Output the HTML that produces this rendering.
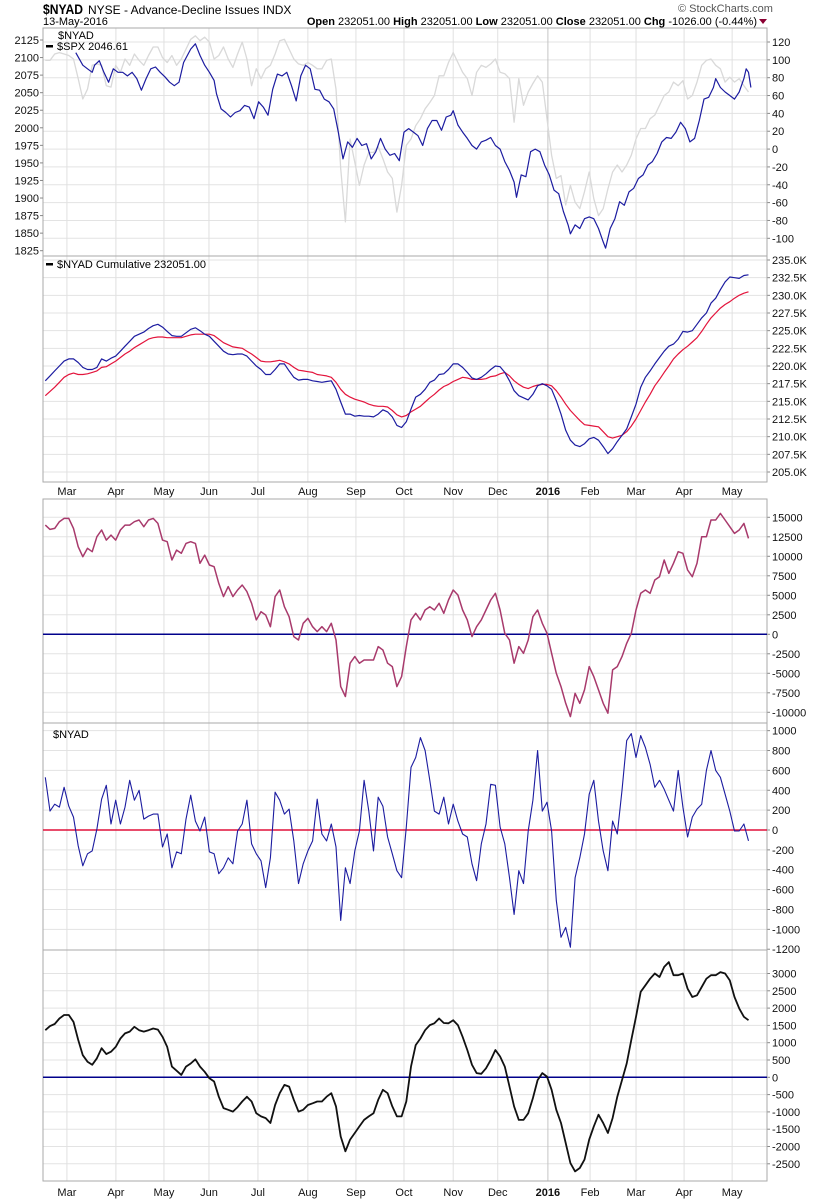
<!DOCTYPE html>
<html><head><meta charset="utf-8"><style>
html,body{margin:0;padding:0;background:#fff;}
svg{display:block;font-family:"Liberation Sans",Arial,sans-serif;}
</style></head><body>
<svg id="c" width="820" height="1200" viewBox="0 0 820 1200" xmlns="http://www.w3.org/2000/svg">
<text x="43" y="14" font-size="14" font-weight="bold" textLength="40" lengthAdjust="spacingAndGlyphs">$NYAD</text>
<text x="88" y="14" font-size="12">NYSE - Advance-Decline Issues INDX</text>
<text x="43" y="25" font-size="11">13-May-2016</text>
<text x="678" y="12" font-size="11" fill="#555">© StockCharts.com</text>
<text x="757" y="25" font-size="11" text-anchor="end"><tspan font-weight="bold">Open</tspan> 232051.00  <tspan font-weight="bold">High</tspan> 232051.00  <tspan font-weight="bold">Low</tspan> 232051.00  <tspan font-weight="bold">Close</tspan> 232051.00  <tspan font-weight="bold">Chg</tspan> -1026.00 (-0.44%)</text>
<polygon points="759,19 767,19 763,24" fill="#8b0033"/>
<g id="g"></g>
</svg>
<script>
const monthLabels=["Mar","Apr","May","Jun","Jul","Aug","Sep","Oct","Nov","Dec","2016","Feb","Mar","Apr","May"];
const monthDays=[10.2,31.1,51.6,70.8,91.7,113,133.5,154,175,194,215.4,233.4,253,273.5,294];
const p1LeftTicks=[2125,2100,2075,2050,2025,2000,1975,1950,1925,1900,1875,1850,1825];
const p1RightTicks=[120,100,80,60,40,20,0,-20,-40,-60,-80,-100];
const spxValues=[2096,2096,2105,2107,2105,2103,2098,2070,2041,2055,2089,2091,2089,2060,2058,2089,2079,2098,2089,2105,2096,2089,2103,2115,2115,2100,2093,2103,2089,2098,2112,2126,2131,2124,2129,2122,2098,2103,2115,2098,2086,2105,2122,2098,2060,2084,2070,2084,2089,2105,2124,2126,2112,2098,2091,2089,2093,2089,2084,2084,2096,2098,2055,1942,1866,1984,1951,1918,1947,1965,1965,1973,1956,1937,1928,1880,1918,1975,1984,2003,2013,2027,2036,2046,2074,2074,2093,2107,2093,2079,2070,2046,2079,2089,2086,2091,2098,2079,2077,2070,2008,2070,2032,2051,2063,2074,2065,2013,1961,1928,1932,1890,1918,1894,1885,1909,1937,1899,1875,1885,1913,1937,1947,1937,1947,1961,1984,1999,1999,2013,2018,2032,2046,2051,2065,2060,2067,2041,2046,2065,2089,2096,2098,2089,2084,2065,2072,2065,2070,2060,2051];
const p1BlueDays=[14,17,19,21,22,24,26,28,30,32,34,36,38,40,42,44,46,48,50,52,54,56,58,60,63,65,67,69,71,73,74,76,78,80,82,84,86,88,90,92,94,96,98,100,102,104,106,108,110,112,114,116,118,120,122,124,126,128,130,132,134,136,138,140,142,144,146,148,150,152,154,156,158,160,162,164,166,168,170,172,174,175,177,179,181,183,185,187,189,191,193,195,197,199,201,202,204,206,208,210,212,214,216,218,220,222,224,225,227,229,231,233,235,237,239,240,242,244,246,248,250,252,254,256,258,260,262,264,266,268,270,272,274,276,278,280,282,284,286,287,289,291,293,295,297,299,300,301,302];
const p1BlueValues=[108,94,90,86,94,99,86,75,90,86,86,82,86,79,66,79,90,92,86,81,75,71,75,97,112,118,105,94,86,77,62,45,41,36,41,43,49,47,34,53,47,38,67,84,82,86,71,54,82,94,90,67,66,56,53,45,19,-11,8,2,12,4,6,-11,-3,12,0,-7,-5,-13,19,23,19,15,4,23,32,32,21,36,38,43,27,19,12,4,0,8,10,13,4,0,-14,-24,-37,-54,-29,-31,-3,0,-3,-18,-29,-46,-50,-70,-85,-95,-85,-89,-78,-76,-78,-89,-104,-111,-89,-78,-59,-63,-48,-44,-33,-29,-18,-14,-5,8,13,12,19,30,23,8,12,32,56,58,69,79,69,64,60,56,64,79,90,86,69];
const p2Ticks=[235.0,232.5,230.0,227.5,225.0,222.5,220.0,217.5,215.0,212.5,210.0,207.5,205.0];
const cumValues=[217.9,218.6,219.3,220.0,220.7,221.0,221.0,220.5,219.8,219.5,219.5,219.8,221.0,220.7,221.1,221.4,222.1,222.8,223.5,224.2,224.5,224.8,225.3,225.7,225.9,225.5,224.9,224.3,224.2,224.2,224.7,225.2,225.4,225.0,224.5,224.2,223.5,222.8,222.1,221.7,221.6,221.7,221.7,221.4,220.7,220.0,219.5,218.8,218.8,219.5,220.3,220.3,219.3,218.4,218.0,218.1,218.1,217.9,217.8,217.7,217.8,217.9,216.7,214.9,213.2,213.2,212.9,213.0,212.9,212.9,212.8,213.2,213.8,213.5,212.8,211.6,211.3,212.1,213.9,215.6,216.0,216.7,217.7,218.0,218.8,218.9,219.5,220.3,220.3,219.8,219.1,218.3,218.1,218.4,218.9,219.5,220.0,219.9,219.1,217.9,216.5,215.8,215.5,215.2,216.0,217.2,217.5,217.2,216.7,215.1,213.2,210.9,209.5,208.8,208.6,209.0,209.7,209.9,209.5,208.6,207.6,208.3,209.3,210.2,211.1,212.8,214.6,217.0,218.4,219.3,220.3,221.2,222.1,222.8,223.1,223.8,224.9,224.8,225.0,225.9,226.8,227.5,228.9,229.6,230.8,231.9,232.6,232.5,232.4,232.8,232.9];
const cumMaValues=[215.8,216.4,217.0,217.7,218.4,218.8,219.0,218.8,218.8,218.9,219.1,219.3,219.8,219.9,220.3,220.7,221.2,221.7,222.1,222.6,223.0,223.4,223.8,224.0,224.1,224.1,224.0,224.0,224.0,224.0,224.2,224.4,224.5,224.5,224.5,224.5,224.3,223.8,223.3,223.0,222.7,222.6,222.5,222.1,221.7,221.2,220.7,220.6,220.6,220.7,220.8,220.6,220.3,219.8,219.4,219.3,219.2,219.1,218.8,218.7,218.6,218.4,217.7,216.7,216.0,215.6,215.3,215.1,214.9,214.6,214.4,214.3,214.3,214.2,213.7,213.1,212.8,213.0,213.5,213.9,214.3,214.9,215.5,216.0,216.6,217.1,217.4,217.8,218.1,218.4,218.3,218.1,218.1,218.1,218.2,218.5,218.6,218.9,219.1,218.6,217.9,217.4,217.0,216.8,217.1,217.3,217.4,217.4,217.2,216.5,215.6,214.6,213.7,213.0,212.3,211.7,211.6,211.5,211.4,210.7,210.0,209.8,210.0,210.2,210.7,211.5,212.5,213.7,214.9,216.0,217.2,218.1,219.1,220.0,221.0,221.7,222.3,222.8,223.4,224.0,224.9,225.9,226.8,227.5,228.2,228.7,229.1,229.6,230.0,230.3,230.5];
const p3Ticks=[15000,12500,10000,7500,5000,2500,0,-2500,-5000,-7500,-10000];
const p3Values=[14000,13450,13580,14430,14860,14860,13580,11230,9950,11020,10590,12510,13370,12080,12720,12080,13370,14000,14000,14430,14650,13790,14650,14860,14220,12080,11870,9520,10800,10380,11660,11870,11660,9100,10160,8880,8670,6530,4830,6110,4830,5680,6320,5470,3970,1840,2900,2480,980,4830,5680,3540,2260,-300,-730,1410,2050,980,340,980,340,1410,-730,-6700,-7980,-3710,-2860,-3710,-3290,-3290,-3290,-1580,-2010,-3710,-4140,-6700,-5420,-1580,1840,2690,1840,3120,3540,3120,3970,2690,4400,5680,5040,3120,1840,-300,980,1840,3120,4400,5250,3120,130,-730,-3710,-1580,-2430,-730,2260,3120,1410,130,-2430,-5000,-6700,-8840,-10550,-7560,-8840,-7130,-4140,-5420,-7130,-8840,-10120,-4570,-4140,-2860,-1150,130,3120,5250,5680,5250,6960,7390,9520,7810,9100,10590,10380,8240,7390,9100,12510,12510,14650,14650,15500,14650,13790,12940,13370,14220,12300];
const p4Ticks=[1000,800,600,400,200,0,-200,-400,-600,-800,-1000,-1200];
const p4Values=[530,190,260,230,430,240,130,-160,-360,-240,-210,10,310,450,60,300,60,230,500,300,400,110,140,160,160,-170,-40,-380,-220,-240,110,350,90,-10,130,-220,-240,-440,-380,-280,-340,-10,60,300,-140,-240,-310,-580,-280,380,300,160,210,-110,-540,-340,-210,-110,310,-40,-110,60,-170,-910,-380,-540,-210,-10,500,190,-210,330,240,-70,-240,-410,-480,30,630,730,930,800,500,190,160,330,60,260,90,-40,-70,-340,-510,-140,60,460,450,30,-140,-480,-850,-410,-540,-10,300,800,190,280,-10,-710,-1080,-980,-1180,-480,-280,-40,360,500,90,-210,-410,90,-40,400,900,970,730,950,830,660,430,500,410,300,190,600,230,-70,130,210,260,600,800,600,530,360,190,-10,-10,60,-110];
const p5Ticks=[3000,2500,2000,1500,1000,500,0,-500,-1000,-1500,-2000,-2500];
const p5Values=[1360,1480,1540,1700,1800,1800,1600,1080,640,450,360,550,840,670,740,880,1120,1270,1320,1460,1360,1320,1360,1410,1380,1170,880,310,190,70,310,400,520,310,160,-30,-120,-560,-890,-940,-990,-860,-700,-560,-700,-1040,-1130,-1180,-1320,-800,-460,-220,-270,-650,-990,-940,-800,-750,-700,-700,-560,-460,-840,-1710,-2140,-1800,-1610,-1420,-1230,-1130,-1040,-650,-360,-460,-840,-1130,-1130,-700,310,930,1120,1360,1510,1560,1700,1570,1560,1650,1510,1170,790,360,120,100,260,500,790,600,310,-270,-840,-1230,-1230,-1040,-600,-80,120,20,-360,-940,-1320,-1900,-2480,-2720,-2620,-2380,-1800,-1420,-1080,-1320,-1610,-1180,-560,-80,400,1080,1750,2470,2660,2850,3000,2900,3190,3330,2950,2950,3000,2560,2320,2370,2610,2850,2950,2950,3040,3000,2800,2320,1990,1750,1650];

const NS="http://www.w3.org/2000/svg";
const G=document.getElementById('g');
const L=43,R=767;
function xOf(day){return 43+day*2.344;}
function lin(v0,y0,v1,y1){return v=>y0+(v-v0)*(y1-y0)/(v1-v0);}
function mk(tag,attrs,parent){const e=document.createElementNS(NS,tag);for(const k in attrs)e.setAttribute(k,attrs[k]);(parent||G).appendChild(e);return e;}
function seqDays(n){const d=[];for(let i=0;i<n;i++)d.push(1+2*i);return d;}
function pathD(days,vals,yf){return vals.map((v,i)=>(i?'L':'M')+xOf(days[i]).toFixed(1)+','+yf(v).toFixed(1)).join('');}

const panels=[
 {name:'panel-nyad-spx',top:28,bot:256},
 {name:'panel-cumulative',top:256,bot:482},
 {name:'panel-oscillator',top:499,bot:723},
 {name:'panel-nyad-daily',top:723,bot:950},
 {name:'panel-momentum',top:950,bot:1181}
];
const yF=[
 lin(120,42,-100,238.3),
 lin(235,260,205,472),
 lin(0,634.3,2500,614.8),
 lin(0,830,200,810.13),
 lin(0,1077.3,500,1060)
];
const spxY=lin(2125,40,1825,250.7);
const tickSets=[p1RightTicks,p2Ticks,p3Ticks,p4Ticks,p5Ticks];
const fmt=[v=>String(v),v=>v.toFixed(1)+'K',v=>String(v),v=>String(v),v=>String(v)];

panels.forEach((p,pi)=>{
  const grp=mk('g',{});
  
  
  tickSets[pi].forEach(t=>{
    const y=yF[pi](t);
    if(y>p.top+1&&y<p.bot-1){
      const ln=mk('line',{x1:L,x2:R,y1:y,y2:y,stroke:'#e3e3e3','stroke-width':1},grp);
      
      
    }
    const tk=mk('line',{x1:R,x2:R+3,y1:y,y2:y,stroke:'#888','stroke-width':1},grp);
    
    
    const tx=mk('text',{x:R+5,y:y+4,'font-size':11,fill:'#111'},grp);
    tx.textContent=fmt[pi](t);
    
    
  });
  monthDays.forEach((d,mi)=>{
    const x=xOf(d);
    const ln=mk('line',{x1:x,x2:x,y1:p.top,y2:p.bot,stroke:monthLabels[mi]==='2016'?'#c4c4c4':'#e0e0e0','stroke-width':1},grp);
    
    
  });
  const fr=mk('rect',{x:L,y:p.top,width:R-L,height:p.bot-p.top,fill:'none',stroke:'#aaa','stroke-width':1},grp);
  
  
});

p1LeftTicks.forEach(t=>{
  const y=spxY(t);
  const tk=mk('line',{x1:L-3,x2:L,y1:y,y2:y,stroke:'#888'});
  
  
  const tx=mk('text',{x:L-4,y:y+4,'font-size':11,'text-anchor':'end',fill:'#111'});
  tx.textContent=String(t);
  
  
});

[[2,'#00008b'],[3,'#e0103a'],[4,'#00008b']].forEach(([pi,c])=>{
  const y=yF[pi](0);
  const ln=mk('line',{x1:L,x2:R,y1:y,y2:y,stroke:c,'stroke-width':1.5});
  
  
});

function series(days,vals,yf,color,w,name){
  const pth=mk('path',{d:pathD(days,vals,yf),fill:'none',stroke:color,'stroke-width':w,'stroke-linejoin':'round'});
  
  
}
series(seqDays(spxValues.length),spxValues,spxY,'#d9d9d9',1.3,'spx-line');
series(p1BlueDays,p1BlueValues,yF[0],'#1c1ca0',1.2,'nyad-line');
series(seqDays(cumMaValues.length),cumMaValues,yF[1],'#e3143c',1.2,'cumulative-ma-line');
series(seqDays(cumValues.length),cumValues,yF[1],'#1c1ca0',1.2,'cumulative-line');
series(seqDays(p3Values.length),p3Values,yF[2],'#a83a6c',1.5,'oscillator-line');
series(seqDays(p4Values.length),p4Values,yF[3],'#1c1ca0',1.1,'nyad-daily-line');
series(seqDays(p5Values.length),p5Values,yF[4],'#111',1.8,'momentum-line');

[495,1196].forEach(by=>{
  monthDays.forEach((d,mi)=>{
    const tx=mk('text',{x:xOf(d),y:by,'font-size':11,'text-anchor':'middle',fill:'#111','font-weight':monthLabels[mi]==='2016'?'bold':'normal'});
    tx.textContent=monthLabels[mi];
    
    
  });
});

function legend(x,y,txt,dash,name){
  if(dash){const r=mk('rect',{x:x,y:y-5,width:7,height:2.5,fill:'#000'});
    
    }
  const t=mk('text',{x:dash?x+11:x,y:y,'font-size':11,fill:'#000'});
  t.textContent=txt;
  
  
}
legend(58,39,'$NYAD',false,'legend-nyad');
legend(46,50,'$SPX 2046.61',true,'legend-spx');
legend(46,268,'$NYAD Cumulative 232051.00',true,'legend-cumulative');
legend(53,738,'$NYAD',false,'legend-nyad-daily');
</script>
</body></html>
